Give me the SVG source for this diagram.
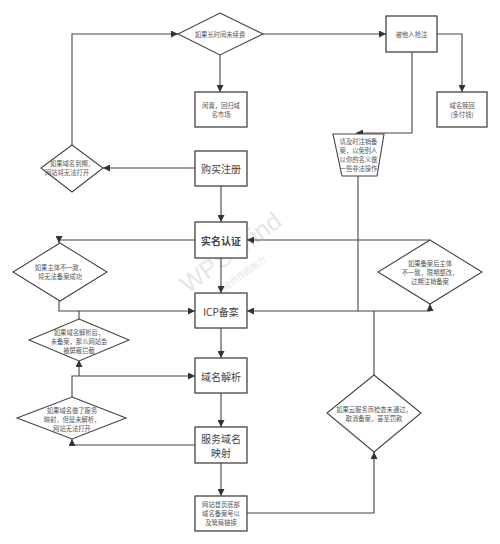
<svg xmlns="http://www.w3.org/2000/svg" width="500" height="544" viewBox="0 0 500 544">
<defs>
<marker id="arr" markerUnits="userSpaceOnUse" markerWidth="8" markerHeight="7" refX="7" refY="3.5" orient="auto">
<path d="M0,0 L7,3.5 L0,7 z" fill="#333"/>
</marker>
<style>
.box{fill:#fff;stroke:#444;stroke-width:1.3}
.shape{fill:#fff;stroke:#444;stroke-width:1.1}
.ln{fill:none;stroke:#444;stroke-width:1.1}
.la{fill:none;stroke:#444;stroke-width:1.1;marker-end:url(#arr)}
.t{font-family:"Noto Sans CJK SC","Liberation Sans",sans-serif;font-size:6.3px;fill:#555;text-anchor:middle;dominant-baseline:central}
.tb{font-family:"Noto Sans CJK SC","Liberation Sans",sans-serif;font-size:10px;fill:#444;text-anchor:middle;dominant-baseline:central}
.wm{font-family:"Liberation Sans","Noto Sans CJK SC",sans-serif;fill:#e6e6e6}
</style>
</defs>
<rect width="500" height="544" fill="#fff"/>
<g id="watermark">
<text class="wm" font-size="25" transform="translate(188,294) rotate(-36)">WPS Mind</text>
<text class="wm" font-size="8.5" transform="translate(202,308) rotate(-36)">WPS AI提供作图能力</text>
</g>
<g id="connectors">
<path class="la" d="M195,168 H103"/>
<path class="la" d="M72,145 V34 H178"/>
<path class="la" d="M220,55 V92"/>
<path class="la" d="M263,34 H386"/>
<path class="la" d="M437,34 H462 V92"/>
<path class="la" d="M412,52 V133 H356"/>
<path class="la" d="M358,176 V311 H247"/>
<path class="la" d="M221,186 V222"/>
<path class="la" d="M195,240 H59 V243"/>
<path class="la" d="M59,301 V311 H195"/>
<path class="ln" d="M79,319 V311"/>
<path class="la" d="M430,240 H247"/>
<path class="la" d="M358,311 H430 V304"/>
<path class="ln" d="M374,375 V311"/>
<path class="la" d="M221,258 V293"/>
<path class="la" d="M221,328 V358"/>
<path class="la" d="M72,397 V376 H195"/>
<path class="la" d="M79,376 V360"/>
<path class="la" d="M221,393 V427"/>
<path class="la" d="M195,445 H72 V439"/>
<path class="la" d="M221,463 V496"/>
<path class="la" d="M247,513 H374 V452"/>
</g>
<g id="n_top">
<polygon class="shape" points="220,13 263,34 220,55 178,34"/>
<text class="t" x="220" y="34">如果长时间未续费</text>
</g>
<g id="n_idle">
<rect class="box" x="195" y="92" width="52" height="35"/>
<text class="t" x="221" y="105">闲置，回归域</text>
<text class="t" x="221" y="114">名市场</text>
</g>
<g id="n_taken">
<rect class="box" x="386" y="16" width="51" height="36"/>
<text class="t" x="411.5" y="34">被他人抢注</text>
</g>
<g id="n_redeem">
<rect class="box" x="437" y="92" width="50" height="35"/>
<text class="t" x="462" y="105">域名赎回</text>
<text class="t" x="462" y="114">(多付钱)</text>
</g>
<g id="n_trap">
<polygon class="shape" points="333,134 384,134 377,176 342,176"/>
<text class="t" x="358.5" y="141.5">请及时注销备</text>
<text class="t" x="358.5" y="150.5">案，以免别人</text>
<text class="t" x="358.5" y="159.5">以你的名义做</text>
<text class="t" x="358.5" y="168.5">一些非法操作</text>
</g>
<g id="n_buy">
<rect class="box" x="195" y="151" width="52" height="35"/>
<text class="tb" x="221" y="168.5">购买注册</text>
</g>
<g id="n_expire">
<polygon class="shape" points="72,145 103,168 72,192 41,168"/>
<text class="t" x="72" y="163.5">如果域名到期，</text>
<text class="t" x="67" y="172.5">网站将无法打开</text>
</g>
<g id="n_realname">
<rect class="box" x="195" y="222" width="52" height="36"/>
<text class="tb" x="221" y="240" font-weight="bold">实名认证</text>
</g>
<g id="n_mismatch">
<polygon class="shape" points="60,243 107,272 60,301 13,272"/>
<text class="t" x="60" y="267.5">如果主体不一致，</text>
<text class="t" x="60" y="276.5">将无法备案成功</text>
</g>
<g id="n_afterfile">
<polygon class="shape" points="430,240 482,272 430,304 378,272"/>
<text class="t" x="430" y="263.5">如果备案后主体</text>
<text class="t" x="430" y="272.5">不一致，限期整改，</text>
<text class="t" x="430" y="281.5">过期注销备案</text>
</g>
<g id="n_icp">
<rect class="box" x="195" y="293" width="52" height="35"/>
<text class="tb" x="221" y="311">ICP备案</text>
</g>
<g id="n_unfiled">
<polygon class="shape" points="79,319 129,340 79,361 29,340"/>
<text class="t" x="79" y="332">如果域名解析后，</text>
<text class="t" x="79" y="341">未备案，那么网站会</text>
<text class="t" x="79" y="350">被屏蔽拦截</text>
</g>
<g id="n_resolve">
<rect class="box" x="195" y="358" width="52" height="35"/>
<text class="tb" x="221" y="376">域名解析</text>
</g>
<g id="n_mapfail">
<polygon class="shape" points="72,397 126,418 72,439 17,418"/>
<text class="t" x="72" y="410">如果域名做了服务</text>
<text class="t" x="72" y="419">映射，但是未解析，</text>
<text class="t" x="72" y="428">网站无法打开</text>
</g>
<g id="n_map">
<rect class="box" x="195" y="427" width="52" height="36"/>
<text class="tb" x="221" y="438">服务域名</text>
<text class="tb" x="221" y="452.5">映射</text>
</g>
<g id="n_cloud">
<polygon class="shape" points="374,375 421,413 374,452 327,413"/>
<text class="t" x="374" y="409">如果云服务商检查未通过，</text>
<text class="t" x="374" y="418">取消备案，甚至罚款</text>
</g>
<g id="n_footer">
<rect class="box" x="195" y="496" width="52" height="35"/>
<text class="t" x="221" y="504.5">网站首页底部</text>
<text class="t" x="221" y="513.5">域名备案号以</text>
<text class="t" x="221" y="522.5">及管局链接</text>
</g>
</svg>
